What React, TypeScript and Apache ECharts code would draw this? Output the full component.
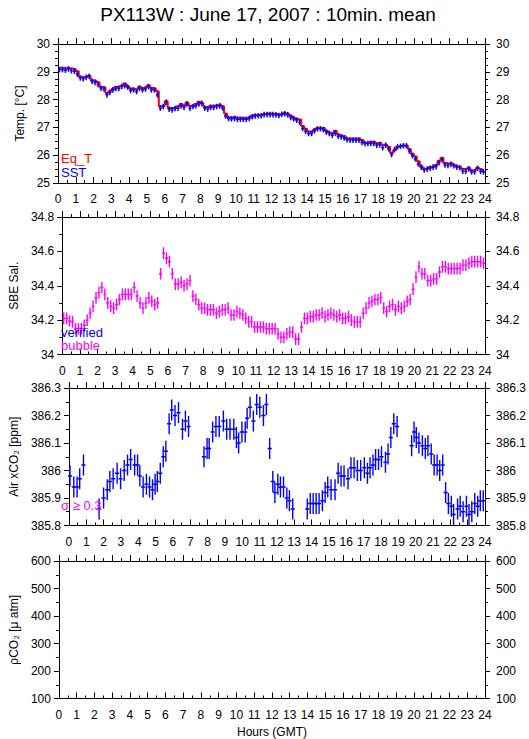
import React, { useEffect, useRef } from "react";
import * as echarts from "echarts";

const FONT = '"Liberation Sans", Arial, Helvetica, sans-serif';

// ---------- Data (10-minute means, GMT hours) ----------
const titleText = "PX113W : June 17, 2007 : 10min. mean";
const hourTicks = [0, 24, 1]; // min, max, step of the hour axis

// Panel 1: temperatures (°C), one value per 10-minute slot
const sst = [
  29.08, 29.08, 29.06, 29.10, 29.04, 29.02,
  28.92, 28.78, 28.75, 28.80, 28.84, 28.66,
  28.62, 28.54, 28.41, 28.38, 28.17, 28.26,
  28.35, 28.40, 28.40, 28.47, 28.50, 28.45,
  28.33, 28.35, 28.29, 28.41, 28.35, 28.38,
  28.47, 28.35, 28.35, 28.17, 27.69, 27.75,
  27.91, 27.65, 27.63, 27.68, 27.69, 27.77,
  27.72, 27.84, 27.69, 27.75, 27.78, 27.84,
  27.87, 27.69, 27.66, 27.72, 27.72, 27.75,
  27.77, 27.70, 27.41, 27.32, 27.31, 27.32,
  27.29, 27.29, 27.29, 27.29, 27.32, 27.38,
  27.41, 27.42, 27.42, 27.46, 27.46, 27.46,
  27.46, 27.45, 27.43, 27.47, 27.49, 27.45,
  27.36, 27.31, 27.26, 27.18, 26.96, 26.86,
  26.78, 26.78, 26.88, 26.95, 26.95, 26.92,
  26.83, 26.78, 26.72, 26.80, 26.68, 26.66,
  26.62, 26.56, 26.54, 26.54, 26.54, 26.54,
  26.46, 26.42, 26.42, 26.42, 26.42, 26.36,
  26.37, 26.27, 26.36, 26.23, 26.02, 26.20,
  26.30, 26.32, 26.34, 26.34, 26.15, 25.99,
  25.87, 25.69, 25.57, 25.47, 25.50, 25.53,
  25.57, 25.59, 25.73, 25.84, 25.65, 25.63,
  25.67, 25.62, 25.57, 25.55, 25.42, 25.42,
  25.51, 25.40, 25.40, 25.53, 25.42, 25.40,
];
const eqT = [
  29.15, 29.15, 29.13, 29.15, 29.12, 29.10,
  29.02, 28.82, 28.80, 28.82, 28.86, 28.70,
  28.68, 28.62, 28.45, 28.44, 28.24, 28.30,
  28.38, 28.45, 28.47, 28.50, 28.58, 28.48,
  28.40, 28.38, 28.36, 28.46, 28.42, 28.44,
  28.52, 28.42, 28.40, 28.30, 27.76, 27.78,
  27.94, 27.70, 27.70, 27.72, 27.76, 27.84,
  27.78, 27.90, 27.78, 27.76, 27.84, 27.92,
  27.88, 27.74, 27.72, 27.78, 27.78, 27.80,
  27.82, 27.76, 27.50, 27.36, 27.36, 27.38,
  27.35, 27.35, 27.34, 27.32, 27.36, 27.42,
  27.45, 27.45, 27.46, 27.48, 27.50, 27.50,
  27.48, 27.48, 27.46, 27.48, 27.52, 27.48,
  27.42, 27.35, 27.30, 27.28, 27.05, 26.95,
  26.85, 26.84, 26.92, 26.98, 26.98, 26.98,
  26.88, 26.82, 26.78, 26.88, 26.75, 26.72,
  26.68, 26.60, 26.60, 26.60, 26.60, 26.60,
  26.55, 26.45, 26.45, 26.48, 26.48, 26.42,
  26.45, 26.38, 26.38, 26.30, 26.08, 26.18,
  26.30, 26.32, 26.35, 26.35, 26.22, 26.05,
  25.95, 25.78, 25.60, 25.50, 25.52, 25.58,
  25.60, 25.65, 25.80, 25.90, 25.72, 25.70,
  25.72, 25.65, 25.60, 25.58, 25.50, 25.50,
  25.55, 25.45, 25.45, 25.55, 25.50, 25.42,
];

// Panel 2: SBE salinity, one value per 10-minute slot
const salinity = [
  34.21, 34.21, 34.195, 34.19, 34.15, 34.15,
  34.15, 34.17, 34.20, 34.24, 34.28, 34.33,
  34.36, 34.39, 34.35, 34.30, 34.28, 34.27,
  34.29, 34.32, 34.35, 34.35, 34.35, 34.35,
  34.39, 34.34, 34.30, 34.27, 34.30, 34.33,
  34.31, 34.29, 34.30, 34.47, 34.59, 34.56,
  34.54, 34.47, 34.41, 34.41, 34.42, 34.40,
  34.41, 34.43, 34.34, 34.32, 34.29, 34.27,
  34.27, 34.26, 34.26, 34.26, 34.24, 34.25,
  34.26, 34.26, 34.27, 34.23, 34.23, 34.25,
  34.24, 34.23, 34.21, 34.19, 34.19, 34.16,
  34.16, 34.16, 34.16, 34.15, 34.15, 34.15,
  34.15, 34.12, 34.10, 34.10, 34.12, 34.13,
  34.13, 34.09, 34.09, 34.16, 34.21, 34.21,
  34.22, 34.22, 34.23, 34.23, 34.24, 34.22,
  34.23, 34.24, 34.23, 34.22, 34.23, 34.21,
  34.21, 34.22, 34.20, 34.19, 34.19, 34.19,
  34.24, 34.27, 34.30, 34.31, 34.32, 34.32,
  34.33, 34.27, 34.25, 34.28, 34.29, 34.26,
  34.28, 34.27, 34.28, 34.31, 34.32, 34.38,
  34.45, 34.51, 34.47, 34.47, 34.43, 34.43,
  34.44, 34.44, 34.48, 34.51, 34.51, 34.50,
  34.50, 34.50, 34.50, 34.50, 34.52, 34.52,
  34.53, 34.54, 34.54, 34.54, 34.54, 34.53,
];

// Panel 3: Air xCO2 (ppm) with gaps: hours and values
const airHours = [
  0.06, 0.28, 0.47, 0.62, 0.84,
  1.74, 2.0, 2.21, 2.36, 2.55, 2.78, 2.98, 3.19, 3.38, 3.56, 3.79, 3.96, 4.09, 4.28, 4.47, 4.65, 4.82, 4.97, 5.10, 5.27, 5.44, 5.59, 5.78, 5.93, 6.12, 6.32, 6.55, 6.72, 6.90,
  7.79, 7.97, 8.09, 8.29, 8.48, 8.67, 8.91, 9.10, 9.29, 9.51, 9.66, 9.79, 9.98, 10.17, 10.28, 10.45, 10.64, 10.83, 11.01, 11.22, 11.39, 11.58, 11.76, 11.88, 12.05, 12.20, 12.38, 12.57, 12.72, 12.91,
  13.75, 13.92, 14.09, 14.26, 14.43, 14.62, 14.78, 14.93, 15.12, 15.35, 15.53, 15.70, 15.87, 16.10, 16.27, 16.45, 16.64, 16.83, 17.04, 17.22, 17.37, 17.54, 17.69, 17.86, 18.03, 18.26, 18.41, 18.57, 18.74, 18.93,
  19.77, 19.91, 20.04, 20.19, 20.39, 20.56, 20.71, 20.90, 21.07, 21.24, 21.39, 21.56, 21.73, 21.89, 22.06, 22.19, 22.42, 22.57, 22.74, 22.93, 23.08, 23.24, 23.41, 23.58, 23.73, 23.90,
];
const airXco2 = [
  385.98, 385.94, 385.94, 385.97, 386.02,
  385.86, 385.90, 385.93, 385.96, 385.97, 385.99, 385.97, 386.00, 386.02, 386.04, 386.02, 386.02, 385.98, 385.94, 385.95, 385.94, 385.93, 385.95, 385.96, 385.99, 386.05, 386.07, 386.17, 386.22, 386.20, 386.21, 386.15, 386.18, 386.16,
  386.05, 386.08, 386.08, 386.14, 386.16, 386.16, 386.18, 386.15, 386.15, 386.15, 386.12, 386.10, 386.14, 386.14, 386.19, 386.23, 386.18, 386.24, 386.23, 386.20, 386.24, 386.08, 385.96, 385.92, 385.95, 385.94, 385.94, 385.90, 385.89, 385.86,
  385.86, 385.88, 385.88, 385.88, 385.88, 385.89, 385.92, 385.94, 385.93, 385.93, 385.99, 385.98, 385.98, 385.97, 386.01, 386.01, 386.00, 386.00, 386.01, 385.99, 386.01, 386.02, 386.04, 386.04, 386.05, 386.03, 386.06, 386.12, 386.17, 386.16,
  386.09, 386.14, 386.12, 386.10, 386.09, 386.08, 386.09, 386.06, 386.02, 386.02, 386.00, 386.02, 385.92, 385.88, 385.87, 385.84, 385.86, 385.87, 385.85, 385.87, 385.84, 385.85, 385.88, 385.87, 385.89, 385.89,
];

// Error-bar half sizes (data units)
const SST_ERR = 0.1;
const SAL_ERR = 0.034;
const AIR_ERR = 0.038;
const SLOT_HALF = 1 / 12; // half of 10 minutes, in hours

const slotHour = (i: number) => (i + 0.5) / 6;

const BLUE = "#0000ff";
const RED = "#ff0000";
const MAGENTA = "#ff00ff";

const GRID_LEFT = 58;
const GRID_W = 427;
const grids = [
  { top: 44, height: 139 },
  { top: 217, height: 137.5 },
  { top: 388, height: 137.5 },
  { top: 561, height: 137.5 },
];

const yDefs = [
  { min: 25, max: 30, interval: 1, minor: 4, name: "Temp. [°C]", gap: 23 },
  { min: 34, max: 34.8, interval: 0.2, minor: 2, name: "SBE Sal.", gap: 36 },
  { min: 385.8, max: 386.3, interval: 0.1, minor: 2, name: "Air xCO₂ [ppm]", gap: 45 },
  { min: 100, max: 600, interval: 100, minor: 2, name: "ρCO₂ [μ atm]", gap: 29 },
];

function crossRenderer(halfW: number, err: number, color: string, lw: number) {
  return (params: any, api: any) => {
    const x = api.value(0);
    const y = api.value(1);
    const l = api.coord([x - halfW, y]);
    const r = api.coord([x + halfW, y]);
    const t = api.coord([x, y + err]);
    const b = api.coord([x, y - err]);
    return {
      type: "group",
      children: [
        { type: "line", shape: { x1: l[0], y1: l[1], x2: r[0], y2: r[1] }, style: { stroke: color, lineWidth: lw } },
        { type: "line", shape: { x1: t[0], y1: t[1], x2: b[0], y2: b[1] }, style: { stroke: color, lineWidth: lw } },
      ],
    };
  };
}

const mkLine = () => ({ show: true, onZero: false, lineStyle: { color: "#000", width: 1 } });
const mkTick = (inside: boolean, length: number) => ({ show: true, inside, length, lineStyle: { color: "#000", width: 1 } });
const mkMinor = (splitNumber: number) => ({ show: true, splitNumber, length: 3, lineStyle: { color: "#000", width: 1 } });

function buildOption() {
  const xAxes: any[] = [];
  const yAxes: any[] = [];
  grids.forEach((g, gi) => {
    const bottom: any = {
      type: "value",
      gridIndex: gi,
      min: hourTicks[0],
      max: hourTicks[1],
      interval: hourTicks[2],
      position: "bottom",
      axisLine: mkLine(),
      axisTick: mkTick(true, 6),
      minorTick: mkMinor(2),
      splitLine: { show: false },
      minorSplitLine: { show: false },
      axisLabel: { show: true, color: "#000", fontSize: 12, fontFamily: FONT, margin: 10 },
    };
    if (gi === 3) {
      bottom.name = "Hours (GMT)";
      bottom.nameLocation = "middle";
      bottom.nameGap = 27;
      bottom.nameTextStyle = { color: "#000", fontSize: 12, fontFamily: FONT };
    }
    xAxes.push(bottom);
    xAxes.push({
      type: "value",
      gridIndex: gi,
      min: hourTicks[0],
      max: hourTicks[1],
      interval: hourTicks[2],
      position: "top",
      axisLine: mkLine(),
      axisTick: mkTick(false, 6),
      minorTick: mkMinor(2),
      splitLine: { show: false },
      minorSplitLine: { show: false },
      axisLabel: { show: false },
    });
    const yd = yDefs[gi];
    yAxes.push({
      type: "value",
      gridIndex: gi,
      min: yd.min,
      max: yd.max,
      interval: yd.interval,
      position: "left",
      axisLine: mkLine(),
      axisTick: mkTick(false, 5),
      minorTick: mkMinor(yd.minor),
      splitLine: { show: false },
      minorSplitLine: { show: false },
      axisLabel: { color: "#000", fontSize: 12, fontFamily: FONT, margin: 8 },
      name: yd.name,
      nameLocation: "middle",
      nameGap: yd.gap,
      nameTextStyle: { color: "#000", fontSize: 12, fontFamily: FONT },
    });
    yAxes.push({
      type: "value",
      gridIndex: gi,
      min: yd.min,
      max: yd.max,
      interval: yd.interval,
      position: "right",
      axisLine: mkLine(),
      axisTick: mkTick(false, 5),
      minorTick: mkMinor(yd.minor),
      splitLine: { show: false },
      minorSplitLine: { show: false },
      axisLabel: { color: "#000", fontSize: 12, fontFamily: FONT, margin: 11 },
    });
  });

  const series: any[] = [
    {
      type: "line",
      name: "Eq_T",
      xAxisIndex: 0,
      yAxisIndex: 0,
      step: "middle",
      showSymbol: false,
      lineStyle: { color: RED, width: 2 },
      data: eqT.map((v, i) => [slotHour(i), v]),
      z: 2,
    },
    {
      type: "custom",
      name: "SST",
      xAxisIndex: 0,
      yAxisIndex: 0,
      renderItem: crossRenderer(SLOT_HALF, SST_ERR, BLUE, 1.5),
      data: sst.map((v, i) => [slotHour(i), v]),
      clip: true,
      z: 3,
    },
    {
      type: "custom",
      name: "bubble",
      xAxisIndex: 2,
      yAxisIndex: 2,
      renderItem: crossRenderer(SLOT_HALF, SAL_ERR, MAGENTA, 1.4),
      data: salinity.map((v, i) => [slotHour(i), v]),
      clip: true,
    },
    {
      type: "custom",
      name: "Air xCO2",
      xAxisIndex: 4,
      yAxisIndex: 4,
      renderItem: crossRenderer(0.12, AIR_ERR, BLUE, 1.4),
      data: airXco2.map((v, i) => [airHours[i], v]),
      clip: true,
    },
  ];

  const label = (text: string, x: number, y: number, color: string) => ({
    type: "text",
    x,
    y,
    z: 10,
    style: { text, fill: color, font: `13px ${FONT}`, textAlign: "left", textVerticalAlign: "middle" },
  });

  return {
    animation: false,
    backgroundColor: "#fff",
    grid: grids.map((g) => ({ left: GRID_LEFT, width: GRID_W, top: g.top, height: g.height, containLabel: false })),
    xAxis: xAxes,
    yAxis: yAxes,
    series,
    graphic: [
      {
        type: "text",
        x: 268,
        y: 14,
        style: { text: titleText, fill: "#000", font: `19px ${FONT}`, textAlign: "center", textVerticalAlign: "middle" },
      },
      label("Eq_T", 61, 158, RED),
      label("SST", 61, 172, BLUE),
      label("verified", 61, 332, BLUE),
      label("bubble", 61, 345, MAGENTA),
      label("σ ≥ 0.3", 61, 505, MAGENTA),
    ],
  };
}

export default function App() {
  const ref = useRef<HTMLDivElement>(null);
  useEffect(() => {
    if (!ref.current) return;
    const chart = echarts.init(ref.current, null, { renderer: "svg", width: 529, height: 739 });
    chart.setOption(buildOption() as any);
    return () => chart.dispose();
  }, []);
  return (
    <div
      ref={ref}
      style={{ position: "fixed", left: 0, top: 0, width: 529, height: 739, background: "#fff" }}
    />
  );
}
